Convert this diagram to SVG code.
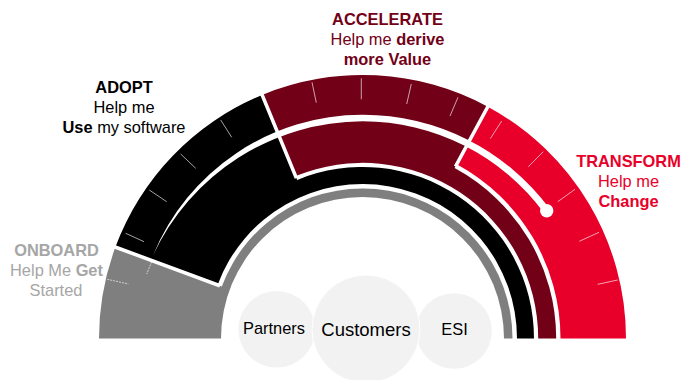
<svg xmlns="http://www.w3.org/2000/svg" width="681" height="380" viewBox="0 0 681 380">
<style>
text{font-family:"Liberation Sans",Arial,sans-serif;font-size:16.4px;text-anchor:middle}
.b{font-weight:bold}
.div{stroke:#fff;stroke-width:3.6;fill:none}
.tick{stroke:#fff;stroke-width:.8;stroke-opacity:.8;fill:none}
.dash{stroke-dasharray:2 1}
.circ{fill:#f2f2f2}
</style>
<rect width="681" height="380" fill="#fff"/>
<g id="onboard">
<path fill="#7f7f7f" d="M99 338.5A263.5 263.5 0 0 1 115.4 247.1L221.8 286.5A150 150 0 0 1 512.5 338.5L504 338.5A141.5 141.5 0 0 0 221 338.5Z"/>
<text x="56.5" y="256" class="b" fill="#a6a6a6">ONBOARD</text>
<text x="56.5" y="276" fill="#a6a6a6">Help Me <tspan class="b">Get</tspan></text>
<text x="56" y="296" fill="#a6a6a6">Started</text>
</g>
<g id="adopt">
<path fill="#000" d="M115.4 247.1A263.5 263.5 0 0 1 262.1 94.9L297.2 179.9A171.5 171.5 0 0 1 534 338.5L517 338.5A154.5 154.5 0 0 0 217.6 284.9Z"/>
<text x="124" y="93" class="b" fill="#000">ADOPT</text>
<text x="124" y="113" fill="#000">Help me</text>
<text x="124" y="133" fill="#000"><tspan class="b">Use</tspan> my software</text>
</g>
<g id="accelerate">
<path fill="#720017" d="M262.1 94.9A263.5 263.5 0 0 1 487.8 106.7L454.6 168.1A193.7 193.7 0 0 1 556.2 338.5L538.2 338.5A175.7 175.7 0 0 0 295.6 176.1Z"/>
<text x="387.5" y="25" class="b" fill="#720017">ACCELERATE</text>
<text x="387.5" y="45" fill="#720017">Help me <tspan class="b">derive</tspan></text>
<text x="387.5" y="65" class="b" fill="#720017">more Value</text>
</g>
<g id="transform">
<path fill="#e8002b" d="M487.8 106.7A263.5 263.5 0 0 1 626 338.5L560.5 338.5A198 198 0 0 0 456.7 164.3Z"/>
<text x="628.5" y="167" class="b" fill="#e8002b">TRANSFORM</text>
<text x="628.5" y="187" fill="#e8002b">Help me</text>
<text x="628.5" y="207" class="b" fill="#e8002b">Change</text>
</g>
<g id="connectors">
<path class="div" d="M219.9 285.8L113 246.2M296.4 178.1L261.2 92.6M455.5 166.5L489 104.5"/>
<path fill="#fff" d="M153 255.5A226 226 0 0 1 362.7 114.8A232.2 232.2 0 0 1 549.5 208.6L543.9 212.8A225.8 225.8 0 0 0 362.7 121.2A232 232 0 0 0 153 255.5Z"/>
<circle cx="546.7" cy="210.7" r="6.7" fill="#fff"/>
<path class="tick dash" d="M107.3 279.3L128.3 284M151.7 261.7L146.7 274"/>
<path class="tick" d="M125.7 233.3L144 241.7M149.3 190L166.7 201.7M180.7 154L195.7 168.3M220.7 120L231.7 137.3M312 82.3L316.3 102.7M361.3 78.3L361.3 99.3M411.3 84L406.7 104M458 97.3L450 116M501.7 121L490.3 138.7M543.3 151.7L528.3 166.7M575 189.3L557.7 201.7M599 232.3L579.3 241.3M617.7 280L597.7 284.3"/>
</g>
<g id="partners">
<circle class="circ" cx="276.7" cy="329.3" r="38.3"/>
<text x="274" y="334" fill="#000">Partners</text>
</g>
<g id="esi">
<circle class="circ" cx="454" cy="331" r="37.8"/>
<text x="454.5" y="335" fill="#000">ESI</text>
</g>
<g id="customers">
<circle class="circ" cx="366" cy="329" r="54" stroke="#fff" stroke-width="1"/>
<text x="366" y="336" style="font-size:18.5px" fill="#000">Customers</text>
</g>
</svg>
